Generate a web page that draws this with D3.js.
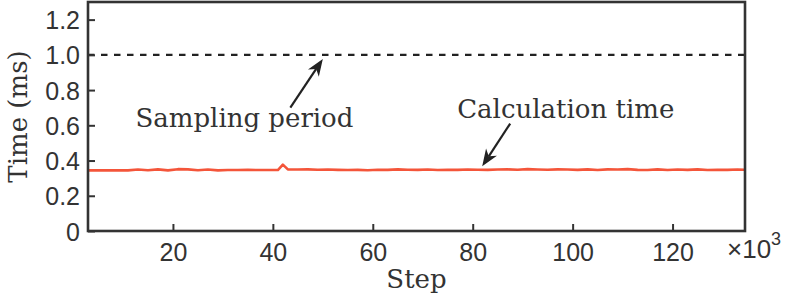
<!DOCTYPE html>
<html><head><meta charset="utf-8">
<script src="https://cdn.jsdelivr.net/npm/d3@7"></script>
<style>body{margin:0;background:#fff}svg{display:block}</style>
</head><body>
<svg id="c" width="789" height="299"></svg>
<script>
// Step (x10^3)
const steps = [3,5,7,9,11,13,15,17,19,21,23,25,27,29,31,33,35,37,39,41,42,43,45,47,49,51,53,55,57,59,61,63,65,67,69,71,73,75,77,79,81,83,85,87,89,91,93,95,97,99,101,103,105,107,109,111,113,115,117,119,121,123,125,127,129,131,133,134.5];
// Calculation time (ms)
const calcTime = [0.344,0.345,0.344,0.345,0.344,0.349,0.345,0.350,0.344,0.351,0.350,0.345,0.349,0.344,0.346,0.346,0.347,0.346,0.346,0.346,0.377,0.350,0.349,0.350,0.348,0.349,0.347,0.346,0.347,0.345,0.348,0.347,0.350,0.348,0.347,0.349,0.346,0.348,0.347,0.349,0.348,0.347,0.349,0.350,0.348,0.351,0.349,0.348,0.350,0.349,0.347,0.350,0.346,0.350,0.349,0.351,0.347,0.346,0.350,0.346,0.349,0.347,0.350,0.346,0.348,0.347,0.349,0.348];
const samplingPeriod = 1.0;
const xTicks = [20,40,60,80,100,120];
const yTicks = [0,0.2,0.4,0.6,0.8,1.0,1.2];
const yTickLabels = ["0","0.2","0.4","0.6","0.8","1.0","1.2"];
const xDomain = [3,134.5];
const yDomain = [0,1.3];
// annotations in data coords
const annSampling = {text:"Sampling period", tx:12.5, ty:0.593, ax:43.5, ay:0.70, bx:50, by:0.977};
const annCalc = {text:"Calculation time", tx:76.9, ty:0.644, ax:87.5, ay:0.61, bx:81.9, by:0.367};

const svg = d3.select("#c");
const L=88, R=745, T=2, B=231;
const x = d3.scaleLinear().domain(xDomain).range([L,R]);
const y = d3.scaleLinear().domain(yDomain).range([B,T]);
const ink = "#333";
const sans = "'Liberation Sans', Arial, sans-serif";
const serif = "'DejaVu Serif', serif";

svg.append("line").attr("x1",x(xDomain[0])).attr("x2",x(xDomain[1]))
  .attr("y1",y(samplingPeriod)).attr("y2",y(samplingPeriod))
  .attr("stroke","#222").attr("stroke-width",2.4).attr("stroke-dasharray","6.5,6.5");

const line = d3.line().x((d,i)=>x(steps[i])).y(d=>y(d));
svg.append("path").datum(calcTime).attr("d",line).attr("fill","none")
  .attr("stroke","#f4553a").attr("stroke-width",2.6).attr("stroke-linejoin","round");

const xAxis = d3.axisBottom(x).tickValues(xTicks).tickSize(-7).tickPadding(12).tickFormat(d3.format("d"));
const gx = svg.append("g").attr("transform",`translate(0,${B})`).call(xAxis);
const yAxis = d3.axisLeft(y).tickValues(yTicks).tickSize(-7).tickPadding(8).tickFormat((d,i)=>yTickLabels[i]);
const gy = svg.append("g").attr("transform",`translate(${L},0)`).call(yAxis);
[gx,gy].forEach(g=>{
  g.select(".domain").remove();
  g.selectAll(".tick line").attr("stroke",ink).attr("stroke-width",2);
  g.selectAll(".tick text").attr("fill",ink).attr("font-family",sans).attr("font-size",25);
});
gy.selectAll(".tick text").attr("dy","0.36em");
gx.selectAll(".tick text").attr("dy","0.7em");

svg.append("rect").attr("x",L).attr("y",T).attr("width",R-L).attr("height",B-T)
  .attr("fill","none").attr("stroke",ink).attr("stroke-width",2.6);

const mult = svg.append("text").attr("x",R-18).attr("y",258).attr("font-family",sans).attr("font-size",26).attr("fill",ink);
mult.append("tspan").text("×10");
mult.append("tspan").attr("dy",-13).attr("font-size",18).text("3");

svg.append("text").attr("x",(L+R)/2).attr("y",288).attr("text-anchor","middle")
  .attr("font-family",serif).attr("font-size",26).attr("fill",ink).text("Step");
svg.append("text").attr("transform",`translate(27,${(T+B)/2}) rotate(-90)`).attr("text-anchor","middle")
  .attr("font-family",serif).attr("font-size",26).attr("fill",ink).text("Time (ms)");

function arrow(a){
  const x0=x(a.ax), y0=y(a.ay), x1=x(a.bx), y1=y(a.by);
  const ang=Math.atan2(y1-y0,x1-x0);
  const len=17, hw=6.5, back=12;
  const ux=Math.cos(ang), uy=Math.sin(ang), px=-uy, py=ux;
  const bx=x1-ux*len, by=y1-uy*len;
  const nx=x1-ux*back, ny=y1-uy*back;
  svg.append("line").attr("x1",x0).attr("y1",y0).attr("x2",nx).attr("y2",ny)
    .attr("stroke","#222").attr("stroke-width",2.2);
  svg.append("path").attr("d",`M${x1},${y1} L${bx+px*hw},${by+py*hw} L${nx},${ny} L${bx-px*hw},${by-py*hw} Z`)
    .attr("fill","#222");
  svg.append("text").attr("x",x(a.tx)).attr("y",y(a.ty)).attr("font-family",serif)
    .attr("font-size",26).attr("fill",ink).text(a.text);
}
arrow(annSampling);
arrow(annCalc);
</script>
</body></html>
